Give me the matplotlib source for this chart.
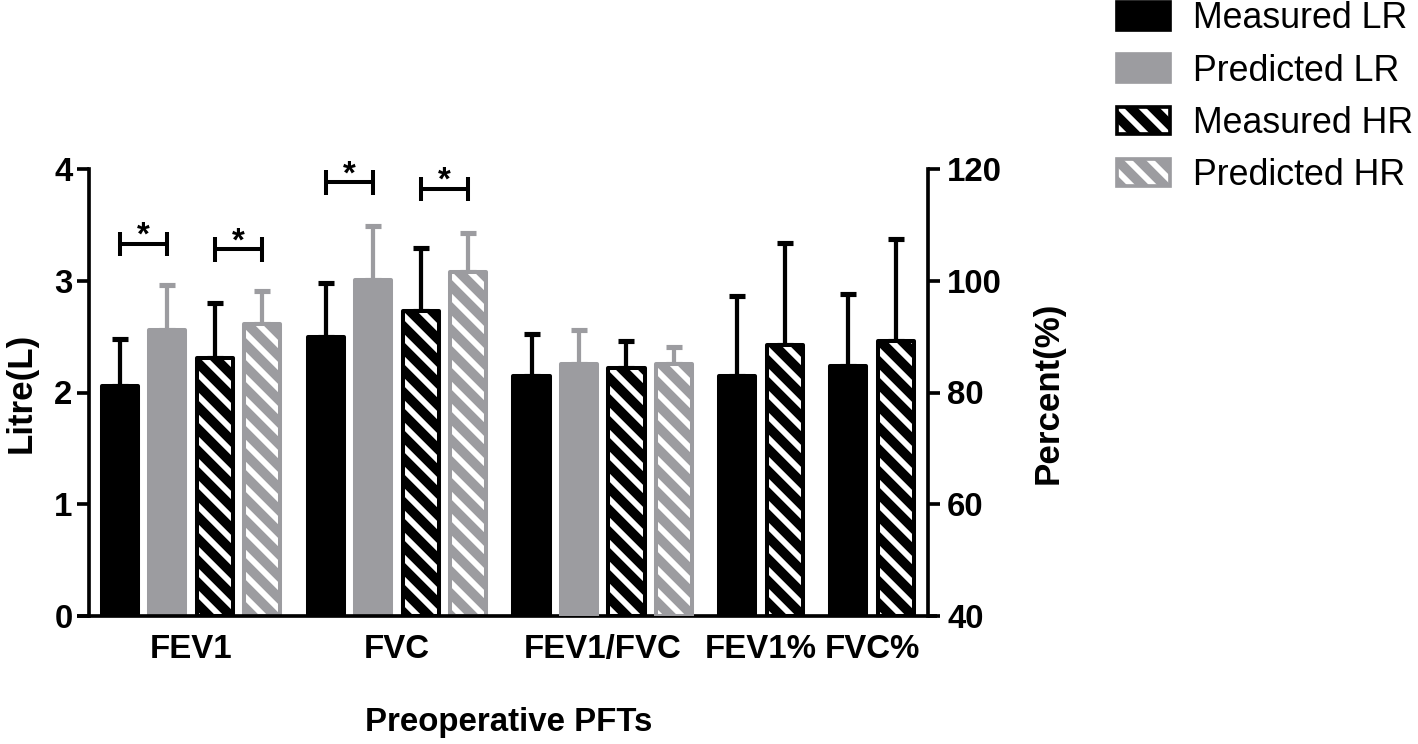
import numpy as np
import matplotlib
matplotlib.use("Agg")
import matplotlib.pyplot as plt
from matplotlib.patches import Patch

plt.rcParams['font.family'] = ['Liberation Sans', 'DejaVu Sans']
plt.rcParams['font.weight'] = 'bold'
plt.rcParams['axes.labelweight'] = 'bold'
plt.rcParams['hatch.linewidth'] = 3.2

# ---------------- data ----------------
categories = ['FEV1', 'FVC', 'FEV1/FVC', 'FEV1%', 'FVC%']
series = ['Measured LR', 'Predicted LR', 'Measured HR', 'Predicted HR']

# left axis (Litre)
fev1_mean = [2.06, 2.56, 2.31, 2.61]
fev1_sd = [0.42, 0.40, 0.49, 0.30]
fvc_mean = [2.50, 3.01, 2.73, 3.08]
fvc_sd = [0.48, 0.48, 0.56, 0.35]
# right axis (Percent)
ratio_mean = [83.0, 85.1, 84.4, 85.1]
ratio_sd = [7.4, 6.0, 4.9, 3.0]
fev1pct_mean = [83.0, 88.5]
fev1pct_sd = [14.2, 18.3]
fvcpct_mean = [84.7, 89.2]
fvcpct_sd = [13.0, 18.2]

group_series = [series, series, series, ['Measured LR', 'Measured HR'], ['Measured LR', 'Measured HR']]
group_means = [fev1_mean, fvc_mean, ratio_mean, fev1pct_mean, fvcpct_mean]
group_sds = [fev1_sd, fvc_sd, ratio_sd, fev1pct_sd, fvcpct_sd]
group_axis = ['left', 'left', 'right', 'right', 'right']

# significance brackets: (group index, bar i, bar j, height in litres)
sig_group = [0, 0, 1, 1]
sig_i = [0, 2, 0, 2]
sig_j = [1, 3, 1, 3]
sig_y = [3.33, 3.28, 3.88, 3.82]

# ---------------- style ----------------
BLACK = '#000000'
GRAY = '#9c9ca0'
styles = {
    'Measured LR': dict(face=BLACK, edge=BLACK, hatch=None),
    'Predicted LR': dict(face=GRAY, edge=GRAY, hatch=None),
    'Measured HR': dict(face=BLACK, edge=BLACK, hatch='\\\\'),
    'Predicted HR': dict(face=GRAY, edge=GRAY, hatch='\\\\'),
}

DPI = 132
W, H = 1418, 744
fig = plt.figure(figsize=(W / DPI, H / DPI), dpi=DPI)
ax = fig.add_axes([89 / W, 1 - 616 / H, 839 / W, 447 / H])
ax2 = ax.twinx()

bar_w = 0.76
gap = 0.335
edge_lw = 2.2

# positions computed from group structure
positions = []
start = 0.0
for ser in group_series:
    pos = [start + k for k in range(len(ser))]
    positions.append(pos)
    start = pos[-1] + 1 + gap


def draw_bar(a, x, top, base, name):
    st = styles[name]
    if st['hatch']:
        a.bar(x, top - base, bar_w, bottom=base, facecolor=st['face'],
              edgecolor='white', hatch=st['hatch'], linewidth=0)
        a.bar(x, top - base, bar_w, bottom=base, facecolor='none',
              edgecolor=st['edge'], linewidth=edge_lw, joinstyle='round')
    else:
        a.bar(x, top - base, bar_w, bottom=base, facecolor=st['face'],
              edgecolor=st['edge'], linewidth=edge_lw, joinstyle='round')


for g in range(len(categories)):
    a = ax if group_axis[g] == 'left' else ax2
    base = 0 if group_axis[g] == 'left' else 40
    for k, name in enumerate(group_series[g]):
        x = positions[g][k]
        m = group_means[g][k]
        s = group_sds[g][k]
        a.errorbar(x, m, yerr=[[0], [s]], fmt='none', ecolor=styles[name]['edge'],
                   elinewidth=2.3, capsize=4.4, capthick=2.8, zorder=1)
        draw_bar(a, x, m, base, name)

# significance brackets
for g, i, j, y in zip(sig_group, sig_i, sig_j, sig_y):
    x1, x2 = positions[g][i], positions[g][j]
    ax.plot([x1, x2], [y, y], color='black', lw=2.2, solid_capstyle='butt')
    ax.plot([x1, x1], [y - 0.11, y + 0.11], color='black', lw=2.2, solid_capstyle='butt')
    ax.plot([x2, x2], [y - 0.11, y + 0.11], color='black', lw=2.2, solid_capstyle='butt')
    ax.annotate('*', xy=((x1 + x2) / 2, y), xytext=(0, -0.5), textcoords='offset points',
                ha='center', va='baseline', fontsize=18, fontweight='bold')

# axes
xmin = positions[0][0] - 0.65
xmax = positions[-1][-1] + 0.68
ax.set_xlim(xmin, xmax)
ax.set_ylim(0, 4)
ax2.set_ylim(40, 120)
ax.set_yticks([0, 1, 2, 3, 4])
ax2.set_yticks([40, 60, 80, 100, 120])

centers = [np.mean(p) for p in positions]
ax.set_xticks(centers)
ax.set_xticklabels(categories)
ax.tick_params(axis='x', length=0, pad=10, labelsize=18)
ax.tick_params(axis='y', length=6.5, width=2, pad=2.5, labelsize=18, direction='out')
ax2.tick_params(axis='y', length=6.5, width=2, pad=4, labelsize=18, direction='out')

for a in (ax, ax2):
    a.spines['top'].set_visible(False)
    a.spines['bottom'].set_visible(False)
    a.patch.set_visible(False)
ax.spines['right'].set_visible(False)
ax2.spines['left'].set_visible(False)
ax.spines['left'].set_linewidth(2)
ax2.spines['right'].set_linewidth(2)

# x-axis line extending slightly beyond the y axes
ax.plot([-0.0143, 1.0107], [0, 0], transform=ax.transAxes, color='black', lw=2,
        clip_on=False, solid_capstyle='butt')

ax.set_xlabel('Preoperative PFTs', fontsize=18, fontweight='bold')
ax.xaxis.set_label_coords(0.5, -0.203)
ax.set_ylabel('Litre(L)', fontsize=19, fontweight='bold', ha='center', va='center')
ax.yaxis.set_label_coords(-0.081, 0.5)
ax2.set_ylabel('Percent(%)', fontsize=19, fontweight='bold', rotation=90, ha='center', va='center')
ax2.yaxis.set_label_coords(1.143, 0.5)

# legend
handles = []
for name in series:
    st = styles[name]
    if st['hatch']:
        handles.append((Patch(facecolor=st['face'], edgecolor='white', hatch=st['hatch'], linewidth=0),
                        Patch(facecolor='none', edgecolor=st['edge'], linewidth=2, joinstyle='round')))
    else:
        handles.append(Patch(facecolor=st['face'], edgecolor=st['edge'], linewidth=2, joinstyle='round'))

fig.legend(handles, series, loc='upper left', bbox_to_anchor=(1117 / W, 1 - 1.5 / H),
           frameon=False, prop={'family': ['Liberation Sans'], 'weight': 'normal', 'size': 19.5},
           handlelength=1.48, handleheight=0.81, handletextpad=0.65, labelspacing=0.48,
           borderpad=0, borderaxespad=0)

fig.savefig('out.png', dpi=DPI)
